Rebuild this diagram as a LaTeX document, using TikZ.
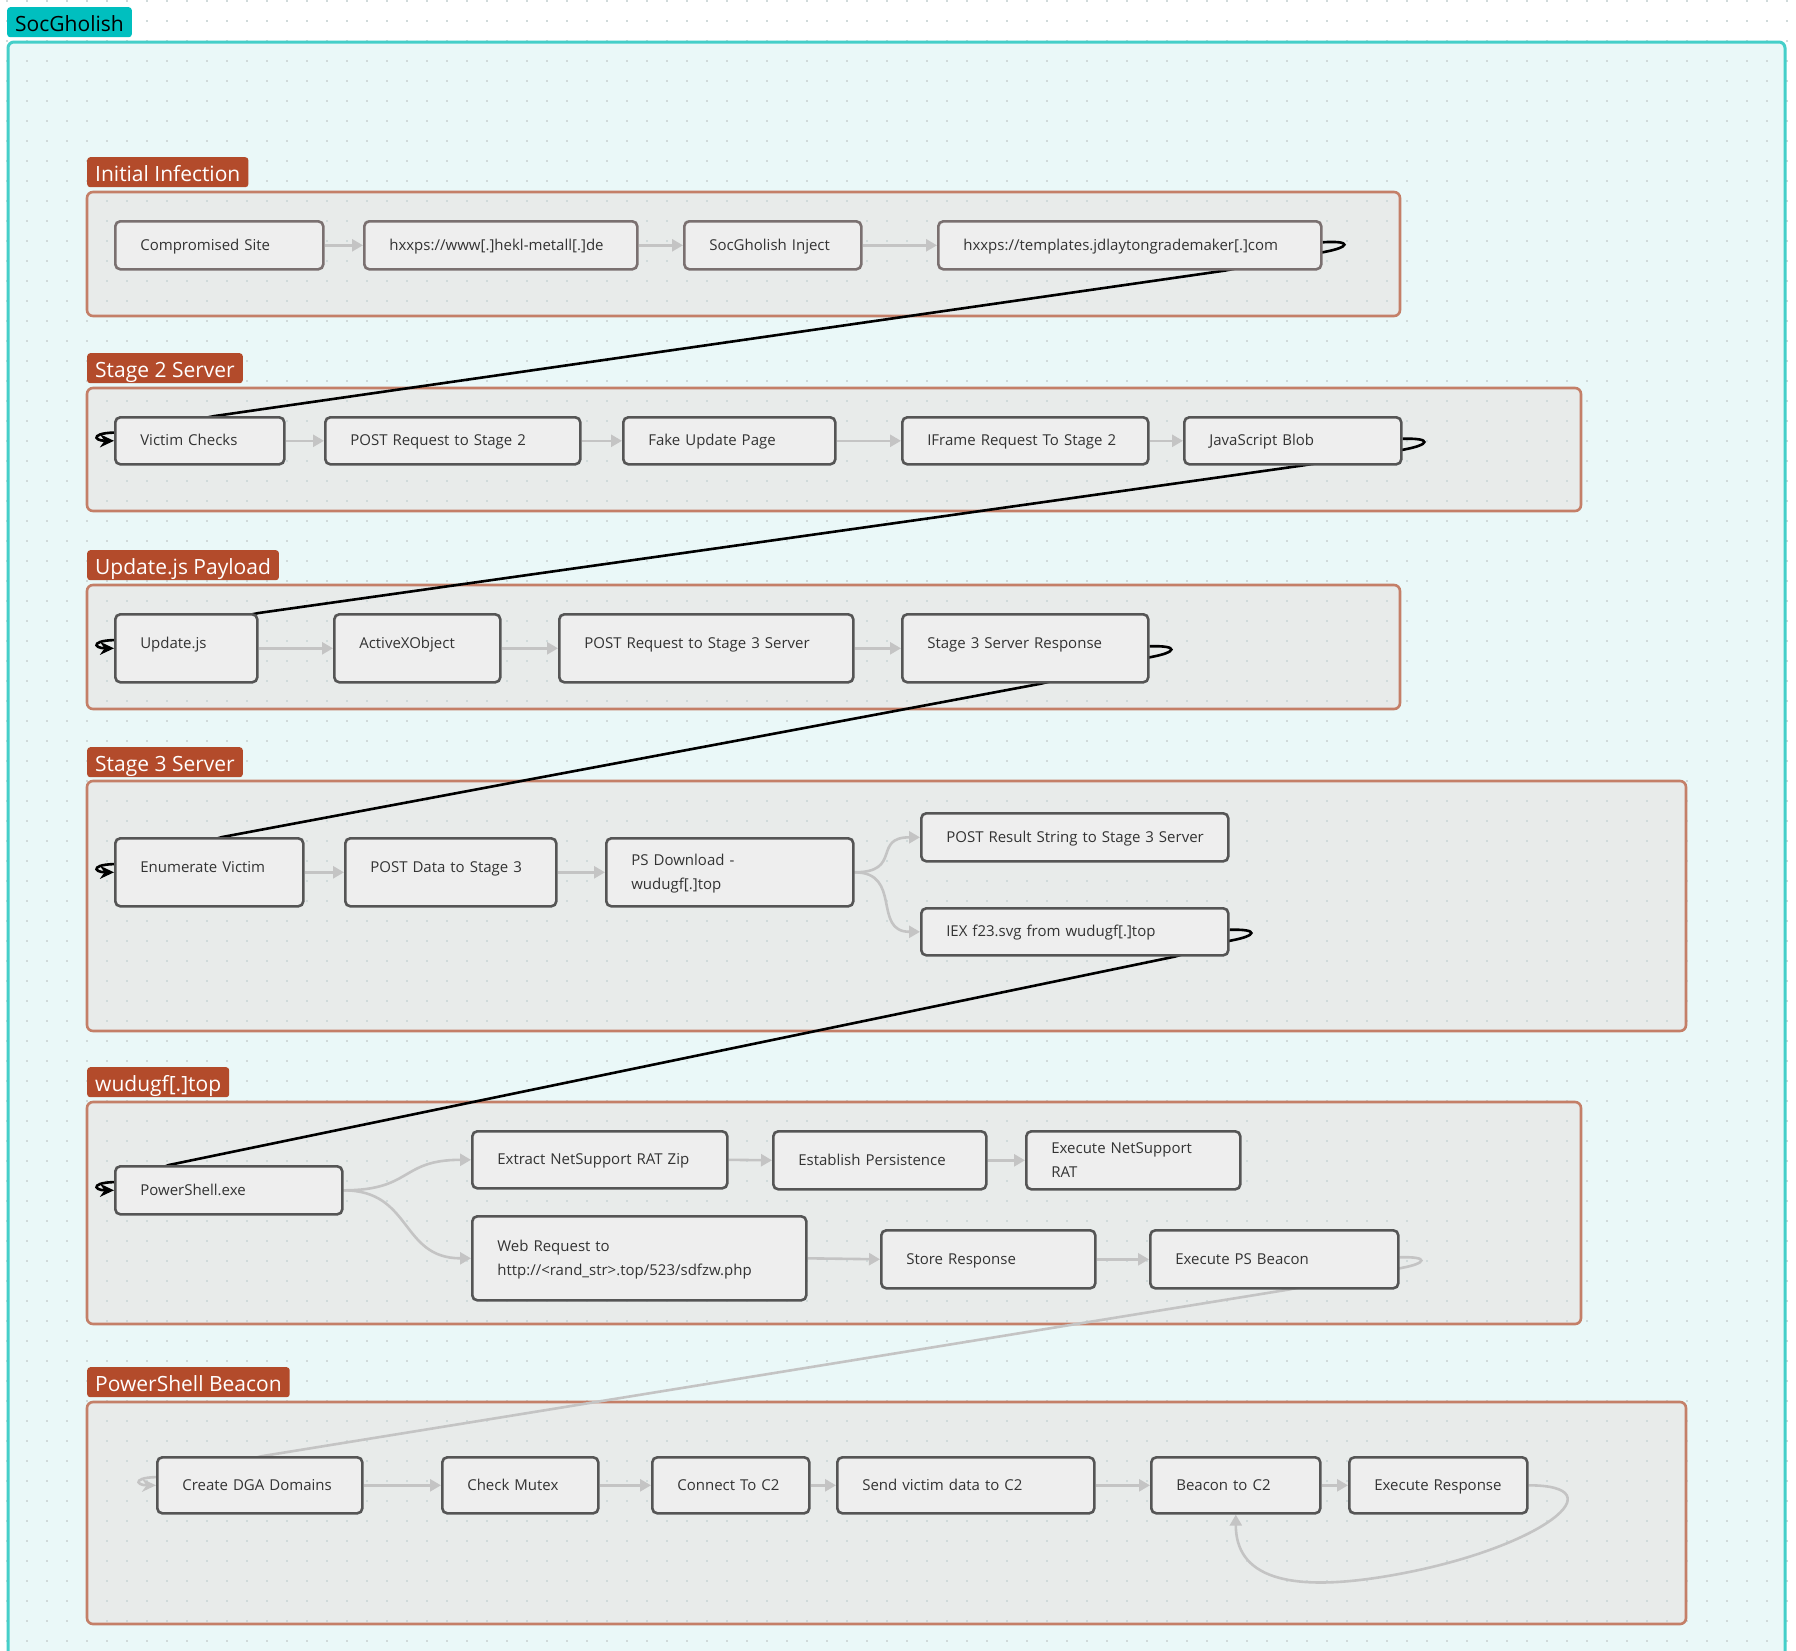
\documentclass[tikz,border=0pt]{standalone}
\usepackage{fontspec}
\setmainfont{Open Sans}
\usetikzlibrary{arrows.meta,calc}

\definecolor{outerfill}{HTML}{EAF8F8}
\definecolor{outerline}{HTML}{45CFC9}
\definecolor{titlefill}{HTML}{00BFBF}
\definecolor{grpfill}{HTML}{E8EBEA}
\definecolor{grpline}{HTML}{C47F68}
\definecolor{tagfill}{HTML}{B34B2B}
\definecolor{boxfill}{HTML}{EEEEEE}
\definecolor{boxline}{HTML}{555555}
\definecolor{boxlineA}{HTML}{7A7070}
\definecolor{flowgray}{HTML}{C4C4C4}
\definecolor{dotgray}{HTML}{D0DADA}
\definecolor{txt}{HTML}{333333}

\pgfdeclarelayer{bg}
\pgfdeclarelayer{links}
\pgfsetlayers{bg,links,main}

\def\boxlift{0pt}
\tikzset{
  box/.style={draw=boxline, fill=boxfill, line width=2.6pt, rounded corners=5pt,
    inner xsep=0pt, inner ysep=0pt, text=txt,
    font=\fontsize{15}{24}\selectfont, anchor=north west},
  boxA/.style={draw=boxlineA},
  lift/.code={\def\boxlift{#1}},
  tagbox/.style={fill=tagfill, text=white, rounded corners=3pt, anchor=north west,
    inner xsep=8pt, inner ysep=0pt, minimum height=30pt, text height=21pt, text depth=2pt,
    font=\fontsize{21}{25}\selectfont},
  grpfillst/.style={fill=grpfill, rounded corners=6pt},
  grpline/.style={draw=grpline, line width=2.6pt, rounded corners=6pt},
  flow/.style={draw=flowgray, line width=2.6pt, -{Triangle[length=11pt,width=12pt]}},
  cross/.style={draw=black, line width=2.6pt, -{Stealth[length=14pt,width=13pt]}},
  crossgray/.style={cross, draw=flowgray},
}

% box with its north-west and south-east corners given; text set 25pt from the left edge
\newcommand\flowbox[7][]{%
  \pgfmathsetmacro\boxw{#5-#3}\pgfmathsetmacro\boxh{#6-#4}%
  \node[box,#1,text width=\boxw pt,minimum height=\boxh pt] (#2) at (#3,#4)
    {\noindent\hspace*{25pt}%
     \rlap{\smash{\raisebox{\boxlift}{\begin{tabular}[c]{@{}l@{}}#7\end{tabular}}}}%
     \phantom{\begin{tabular}[c]{@{}l@{}}#7\end{tabular}}};}

\begin{document}
\begin{tikzpicture}[x=1pt,y=-1pt]
\useasboundingbox (0,0) rectangle (1796,1650);

% ---------- backgrounds ----------
\begin{pgfonlayer}{bg}
  \fill[white] (0,0) rectangle (1796,1650);
  \fill[outerfill, rounded corners=6pt] (8,42) rectangle (1785,1700);
  \fill[grpfillst] (87,192) rectangle (1400,316);
  \fill[grpfillst] (87,388) rectangle (1581,511);
  \fill[grpfillst] (87,585) rectangle (1400,709);
  \fill[grpfillst] (87,781) rectangle (1686,1031);
  \fill[grpfillst] (87,1102) rectangle (1581,1324);
  \fill[grpfillst] (87,1402) rectangle (1686,1624);
  % dotted grid
  \foreach \r in {0,...,82}
    \draw[dotgray, line width=1.5pt, dash pattern=on 1.5pt off 18.5pt] (6,{1+20*\r}) -- (1796,{1+20*\r});
  \draw[outerline, line width=3pt, rounded corners=6pt] (8,42) rectangle (1785,1700);
  \draw[grpline] (87,192) rectangle (1400,316);
  \draw[grpline] (87,388) rectangle (1581,511);
  \draw[grpline] (87,585) rectangle (1400,709);
  \draw[grpline] (87,781) rectangle (1686,1031);
  \draw[grpline] (87,1102) rectangle (1581,1324);
  \draw[grpline] (87,1402) rectangle (1686,1624);
\end{pgfonlayer}

% ---------- titles ----------
\node[tagbox, fill=titlefill, text=black] (title) at (7,7) {SocGholish};
\node[tagbox] (t1) at (87,157) {Initial Infection};
\node[tagbox] (t2) at (87,353) {Stage 2 Server};
\node[tagbox] (t3) at (87,550) {Update.js Payload};
\node[tagbox] (t4) at (87,747) {Stage 3 Server};
\node[tagbox] (t5) at (87,1067) {wudugf[.]top};
\node[tagbox] (t6) at (87,1367) {PowerShell Beacon};

% ---------- Initial Infection ----------
\flowbox[boxA]{c1}{114}{220}{322}{268}{Compromised Site}
\flowbox[boxA]{c2}{363}{220}{636}{268}{hxxps://www[.]hekl-metall[.]de}
\flowbox[boxA]{c3}{683}{220}{860}{268}{SocGholish Inject}
\flowbox[boxA]{c4}{937}{220}{1320}{268}{hxxps://templates.jdlaytongrademaker[.]com}

% ---------- Stage 2 Server ----------
\flowbox{v1}{114}{416}{283}{463}{Victim Checks}
\flowbox{v2}{324}{416}{579}{463}{POST Request to Stage 2}
\flowbox{v3}{622}{416}{834}{463}{Fake Update Page}
\flowbox{v4}{901}{416}{1147}{463}{IFrame Request To Stage 2}
\flowbox{v5}{1183}{416}{1400}{463}{JavaScript Blob}

% ---------- Update.js Payload ----------
\flowbox[lift=5pt]{u1}{114}{613}{256}{681}{Update.js}
\flowbox[lift=5pt]{u2}{333}{613}{499}{681}{ActiveXObject}
\flowbox[lift=5pt]{u3}{558}{613}{852}{681}{POST Request to Stage 3 Server}
\flowbox[lift=5pt]{u4}{901}{613}{1147}{681}{Stage 3 Server Response}

% ---------- Stage 3 Server ----------
\flowbox[lift=5pt]{s1}{114}{837}{302}{905}{Enumerate Victim}
\flowbox[lift=5pt]{s2}{344}{837}{555}{905}{POST Data to Stage 3}
\flowbox{s3}{605}{837}{852}{905}{PS Download -\\wudugf[.]top}
\flowbox{s4}{920}{812}{1227}{860}{POST Result String to Stage 3 Server}
\flowbox{s5}{920}{907}{1227}{954}{IEX f23.svg from wudugf[.]top}

% ---------- wudugf[.]top ----------
\flowbox{w1}{114}{1165}{341}{1213}{PowerShell.exe}
\flowbox{w2}{471}{1130}{726}{1187}{Extract NetSupport RAT Zip}
\flowbox{w3}{772}{1130}{985}{1188}{Establish Persistence}
\flowbox{w4}{1025}{1130}{1239}{1188}{Execute NetSupport\\RAT}
\flowbox{w5}{471}{1215}{805}{1299}{Web Request to\\http://<rand\_str>.top/523/sdfzw.php}
\flowbox{w6}{880}{1229}{1094}{1287}{Store Response}
\flowbox{w7}{1149}{1229}{1397}{1287}{Execute PS Beacon}

% ---------- PowerShell Beacon ----------
\flowbox{p1}{156}{1456}{361}{1512}{Create DGA Domains}
\flowbox{p2}{441}{1456}{597}{1512}{Check Mutex}
\flowbox{p3}{651}{1456}{808}{1512}{Connect To C2}
\flowbox{p4}{836}{1456}{1093}{1512}{Send victim data to C2}
\flowbox{p5}{1150}{1456}{1319}{1512}{Beacon to C2}
\flowbox{p6}{1348}{1456}{1526}{1512}{Execute Response}

% ---------- connectors ----------
\begin{pgfonlayer}{links}
  \draw[flow] (c1.east) -- (c2.west);
  \draw[flow] (c2.east) -- (c3.west);
  \draw[flow] (c3.east) -- (c4.west);

  \draw[flow] (v1.east) -- (v2.west);
  \draw[flow] (v2.east) -- (v3.west);
  \draw[flow] (v3.east) -- (v4.west);
  \draw[flow] (v4.east) -- (v5.west);

  \draw[flow] (u1.east) -- (u2.west);
  \draw[flow] (u2.east) -- (u3.west);
  \draw[flow] (u3.east) -- (u4.west);

  \draw[flow] (s1.east) -- (s2.west);
  \draw[flow] (s2.east) -- (s3.west);
  \draw[flow] (s3.east) .. controls ($(s3.east)+(48,0)$) and ($(s4.west)+(-48,0)$) .. (s4.west);
  \draw[flow] (s3.east) .. controls ($(s3.east)+(48,0)$) and ($(s5.west)+(-48,0)$) .. (s5.west);

  \draw[flow] (w1.east) .. controls ($(w1.east)+(69,0)$) and ($(w2.west)+(-71,0)$) .. (w2.west);
  \draw[flow] (w1.east) .. controls ($(w1.east)+(69,0)$) and ($(w5.west)+(-71,0)$) .. (w5.west);
  \draw[flow] (w2.east) -- (w3.west);
  \draw[flow] (w3.east) -- (w4.west);
  \draw[flow] (w5.east) -- (w6.west);
  \draw[flow] (w6.east) -- (w7.west);

  \draw[flow] (p1.east) -- (p2.west);
  \draw[flow] (p2.east) -- (p3.west);
  \draw[flow] (p3.east) -- (p4.west);
  \draw[flow] (p4.east) -- (p5.west);
  \draw[flow] (p5.east) -- (p6.west);
  \draw[flow] (p6.east) .. controls ($(p6.east)+(90,0)$) and ($(p6.east)+(15,61)$)
      .. ($(p6.east)+(-126,88)$) .. controls ($(p6.east)+(-246,111)$) and ($(p5.south)+(0,60)$)
      .. (p5.south);

  % links from one stage to the next
  \draw[cross] ($(c4.east)+(0,-3)$) .. controls ($(c4.east)+(30,-5)$) and ($(c4.east)+(28,2)$)
      .. ($(c4.east)+(0,7)$) -- ($(c4.south)+(95,0)$) -- ($(v1.north)+(15,0)$)
      -- ($(v1.west)+(12,-8)$) .. controls ($(v1.west)+(-24,-10)$) and ($(v1.west)+(-22,0)$) .. (v1.west);
  \draw[cross] ($(v5.east)+(0,-2)$) .. controls ($(v5.east)+(30,-3)$) and ($(v5.east)+(28,4)$)
      .. ($(v5.east)+(0,9)$) -- ($(v5.south)+(9,0)$) -- (u1.north east)
      -- ($(u1.west)+(12,-8)$) .. controls ($(u1.west)+(-24,-10)$) and ($(u1.west)+(-22,0)$) .. (u1.west);
  \draw[cross] ($(u4.east)+(0,-2)$) .. controls ($(u4.east)+(30,-3)$) and ($(u4.east)+(28,4)$)
      .. ($(u4.east)+(0,9)$) -- ($(u4.south)+(16,0)$) -- ($(s1.north)+(13,0)$)
      -- ($(s1.west)+(12,-8)$) .. controls ($(s1.west)+(-24,-10)$) and ($(s1.west)+(-22,0)$) .. (s1.west);
  \draw[cross] ($(s5.east)+(0,-2)$) .. controls ($(s5.east)+(30,-3)$) and ($(s5.east)+(28,4)$)
      .. ($(s5.east)+(0,9)$) -- ($(s5.south)+(100,0)$) -- ($(w1.north)+(-60,0)$)
      -- ($(w1.west)+(12,-8)$) .. controls ($(w1.west)+(-24,-10)$) and ($(w1.west)+(-22,0)$) .. (w1.west);
  \draw[crossgray] ($(w7.east)+(0,-2)$) .. controls ($(w7.east)+(30,-3)$) and ($(w7.east)+(28,4)$)
      .. ($(w7.east)+(0,9)$) -- ($(w7.south)+(14,0)$) -- ($(p1.north)+(3,0)$)
      -- ($(p1.west)+(12,-8)$) .. controls ($(p1.west)+(-24,-10)$) and ($(p1.west)+(-22,0)$) .. (p1.west);
\end{pgfonlayer}
\end{tikzpicture}
\end{document}
